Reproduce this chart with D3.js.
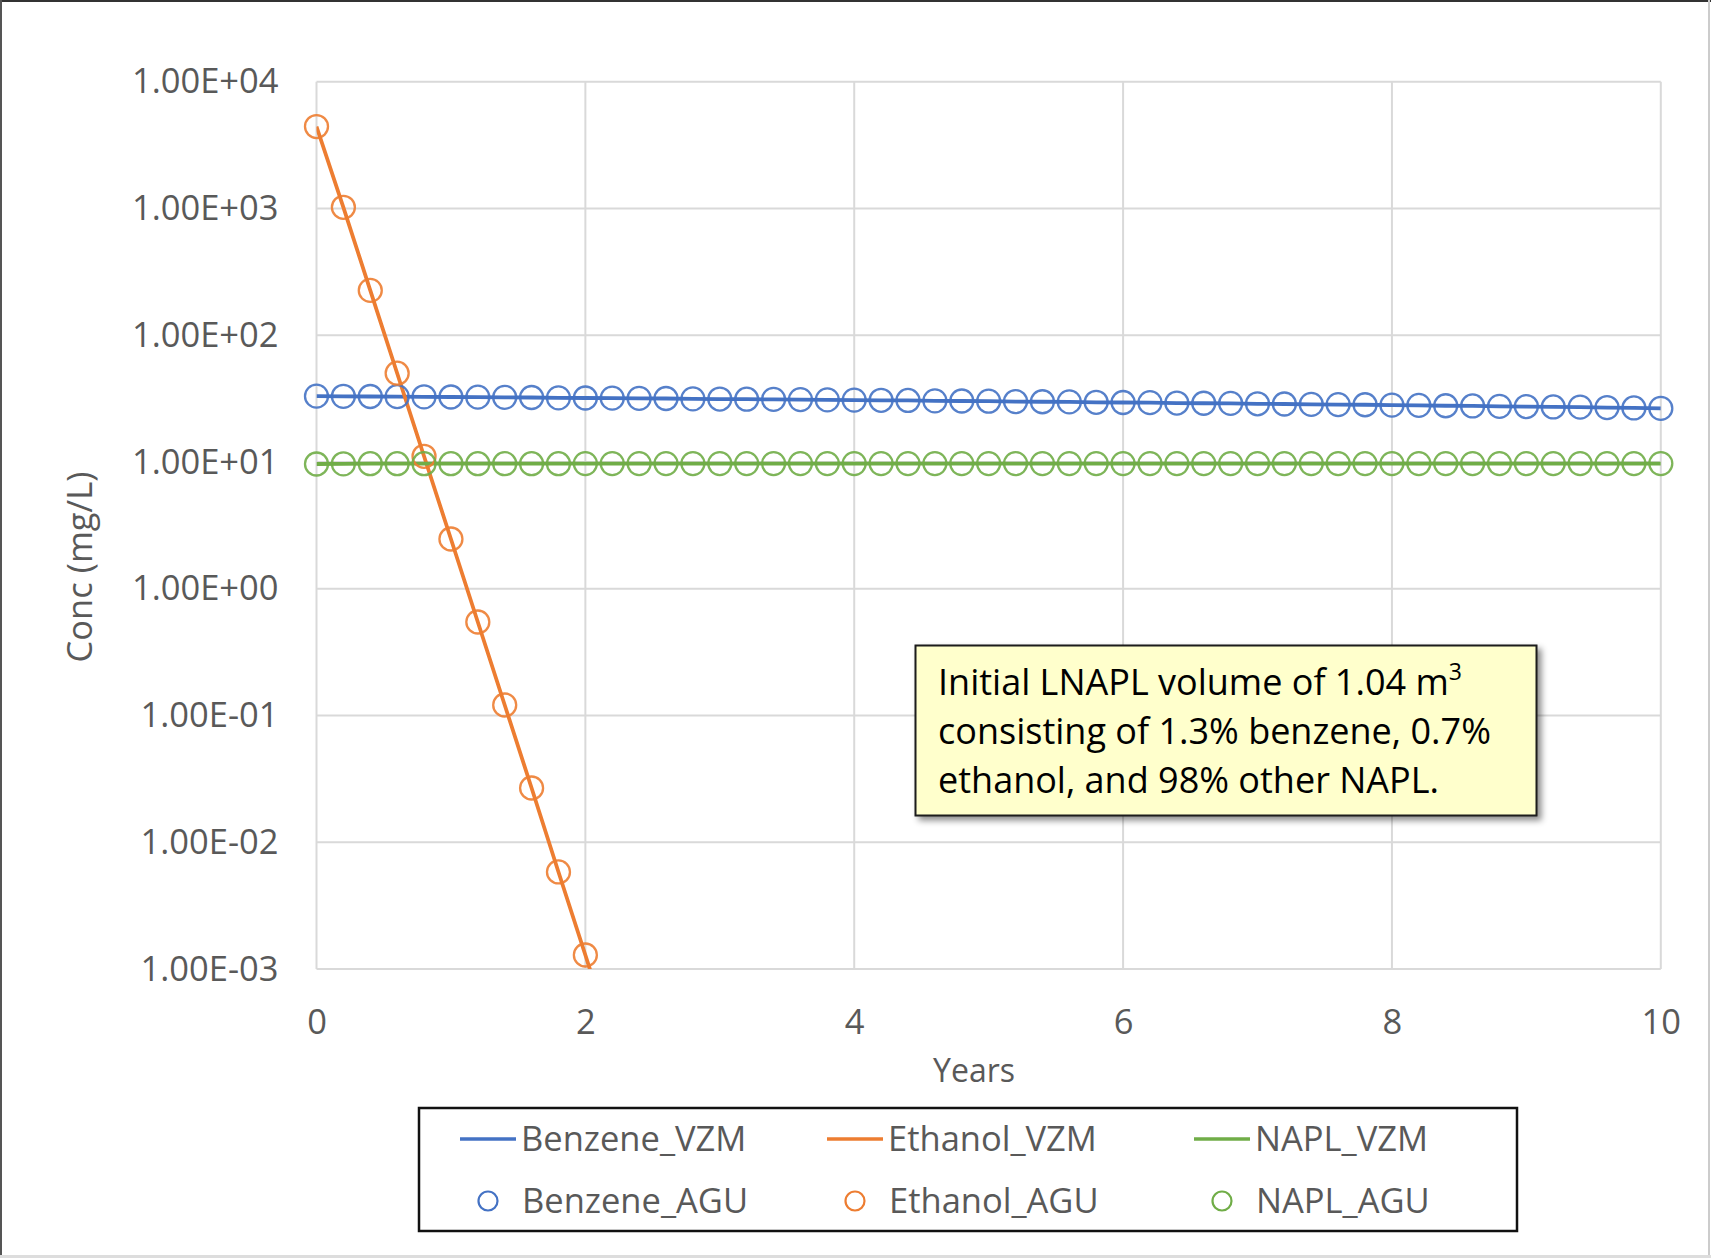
<!DOCTYPE html>
<html><head><meta charset="utf-8">
<script src="https://cdn.jsdelivr.net/npm/d3@7"></script>
<style>
body{margin:0;background:#fff}
svg{display:block}
text{font-family:"Open Sans","Noto Sans",sans-serif}
</style>
</head><body>
<svg id="c" width="1711" height="1258"></svg>
<script>
// ---------- DATA ----------
const years = [0,0.2,0.4,0.6,0.8,1.0,1.2,1.4,1.6,1.8,2.0,2.2,2.4,2.6,2.8,3.0,3.2,3.4,3.6,3.8,4.0,
  4.2,4.4,4.6,4.8,5.0,5.2,5.4,5.6,5.8,6.0,6.2,6.4,6.6,6.8,7.0,7.2,7.4,7.6,7.8,8.0,
  8.2,8.4,8.6,8.8,9.0,9.2,9.4,9.6,9.8,10.0];
const benzene = [33.1,33.0,32.9,32.8,32.7,32.6,32.5,32.4,32.3,32.1,32.0,31.9,31.8,31.7,31.5,31.4,31.3,31.2,31.1,30.9,30.8,
  30.7,30.6,30.4,30.3,30.2,30.0,29.9,29.8,29.6,29.5,29.4,29.2,29.1,29.0,28.8,28.7,28.5,28.4,28.3,28.1,
  28.0,27.8,27.7,27.5,27.4,27.2,27.1,26.9,26.7,26.5];
const napl = [9.65,9.68,9.7,9.7,9.7,9.7,9.7,9.7,9.7,9.7,9.72,9.72,9.72,9.72,9.72,9.72,9.72,9.72,9.72,9.72,9.72,
  9.72,9.72,9.72,9.72,9.72,9.72,9.72,9.72,9.72,9.72,9.72,9.72,9.72,9.72,9.72,9.72,9.72,9.72,9.72,9.72,
  9.72,9.72,9.72,9.72,9.72,9.72,9.72,9.72,9.72,9.72];
const ethanolYears = [0,0.2,0.4,0.6,0.8,1.0,1.2,1.4,1.6,1.8,2.0];
const ethanolAGU = [4436,1023,226,50.2,11.1,2.47,0.547,0.121,0.0268,0.00583,0.00129];
const ethanolVZMYears = [0,0.2,0.4,0.6,0.8,1.0,1.2,1.4,1.6,1.8,2.0,2.2];
const ethanolVZM = [4436,1023,226,50.2,11.1,2.47,0.547,0.121,0.0268,0.00583,0.00129,0.00028];
const yTicks = [1e-3,1e-2,1e-1,1e0,1e1,1e2,1e3,1e4];
const yTickLabels = ["1.00E-03","1.00E-02","1.00E-01","1.00E+00","1.00E+01","1.00E+02","1.00E+03","1.00E+04"];
const xTicks = [0,2,4,6,8,10];
const legendLines = ["Benzene_VZM","Ethanol_VZM","NAPL_VZM"];
const legendMarkers = ["Benzene_AGU","Ethanol_AGU","NAPL_AGU"];
const noteLines = ["Initial LNAPL volume of 1.04 m","consisting of 1.3% benzene, 0.7%","ethanol, and 98% other NAPL."];

// ---------- STYLE ----------
const C = {blue:"#4472C4", orange:"#ED7D31", green:"#70AD47", grid:"#D9D9D9", text:"#595959"};
const seriesColors = [C.blue, C.orange, C.green];
const L = 316.5, R = 1660.8, T = 81.8, B = 969;
const FS = 34.5;

const svg = d3.select("#c");
svg.append("rect").attr("width",1711).attr("height",1258).attr("fill","#fff");

const defs = svg.append("defs");
defs.append("clipPath").attr("id","plotclip").append("rect")
  .attr("x",L).attr("y",T).attr("width",R-L).attr("height",B-T);
const f = defs.append("filter").attr("id","shadow").attr("x","-10%").attr("y","-10%").attr("width","130%").attr("height","140%");
f.append("feDropShadow").attr("dx",4).attr("dy",4).attr("stdDeviation",3).attr("flood-color","#000").attr("flood-opacity",0.45);

const x = d3.scaleLinear().domain([0,10]).range([L,R]);
const y = d3.scaleLog().domain([1e-3,1e4]).range([B,T]);

// gridlines
svg.append("g").selectAll("line").data(yTicks).join("line")
  .attr("x1",L).attr("x2",R).attr("y1",d=>y(d)).attr("y2",d=>y(d))
  .attr("stroke",C.grid).attr("stroke-width",2);
svg.append("g").selectAll("line").data(xTicks).join("line")
  .attr("x1",d=>x(d)).attr("x2",d=>x(d)).attr("y1",T).attr("y2",B)
  .attr("stroke",C.grid).attr("stroke-width",2);

// axes
const yAxis = svg.append("g").attr("transform",`translate(${L},0)`)
  .call(d3.axisLeft(y).tickValues(yTicks).tickSize(0).tickPadding(38)
    .tickFormat((d,i)=>yTickLabels[i]));
yAxis.select(".domain").remove();
yAxis.selectAll("text").attr("font-size",FS).attr("fill",C.text).attr("font-family","'Open Sans',sans-serif");

const xAxis = svg.append("g").attr("transform",`translate(0,${B})`)
  .call(d3.axisBottom(x).tickValues(xTicks).tickSize(0).tickPadding(65).tickFormat(d3.format("d")));
xAxis.select(".domain").remove();
xAxis.selectAll("text").attr("font-size",FS).attr("fill",C.text).attr("dy",0).attr("font-family","'Open Sans',sans-serif");

// axis titles
svg.append("text").attr("x",974).attr("y",1082).attr("text-anchor","middle")
  .attr("font-size",32).attr("fill",C.text).text("Years");
svg.append("text").attr("transform","translate(92,567) rotate(-90)").attr("text-anchor","middle")
  .attr("font-size",FS).attr("fill",C.text).text("Conc (mg/L)");

// lines
const line = d3.line().x(d=>x(d[0])).y(d=>y(d[1]));
const plot = svg.append("g").attr("clip-path","url(#plotclip)");
const vzm = [
  d3.zip(years, benzene),
  d3.zip(ethanolVZMYears, ethanolVZM),
  d3.zip(years, napl)
];
vzm.forEach((s,i)=>{
  plot.append("path").datum(s).attr("d",line).attr("fill","none")
    .attr("stroke",seriesColors[i]).attr("stroke-width",3.8);
});
// markers
const agu = [
  d3.zip(years, benzene),
  d3.zip(ethanolYears, ethanolAGU),
  d3.zip(years, napl)
];
agu.forEach((s,i)=>{
  svg.append("g").selectAll("circle").data(s).join("circle")
    .attr("cx",d=>x(d[0])).attr("cy",d=>y(d[1])).attr("r",11.5)
    .attr("fill","none").attr("stroke",seriesColors[i]).attr("stroke-width",2.3).attr("stroke-opacity",0.9);
});

// annotation box
const nb = svg.append("g");
nb.append("rect").attr("x",915.5).attr("y",645.5).attr("width",621).attr("height",170)
  .attr("fill","#FFFFCC").attr("stroke","#1a1a1a").attr("stroke-width",2).attr("filter","url(#shadow)");
const nt = nb.append("g");
noteLines.forEach((s,i)=>{
  const t = nt.append("text").attr("x",938).attr("y",695+i*49).attr("font-size",36).attr("fill","#000");
  t.append("tspan").text(s);
  if(i===0) t.append("tspan").attr("font-size",23).attr("dy",-15).text("3");
});

// legend
const lg = svg.append("g");
lg.append("rect").attr("x",419).attr("y",1108).attr("width",1098).attr("height",123)
  .attr("fill","#fff").attr("stroke","#111").attr("stroke-width",2.5);
const colX = [460, 827, 1194];
legendLines.forEach((s,i)=>{
  lg.append("line").attr("x1",colX[i]).attr("x2",colX[i]+56).attr("y1",1139).attr("y2",1139)
    .attr("stroke",seriesColors[i]).attr("stroke-width",3.5);
  lg.append("text").attr("x",colX[i]+61).attr("y",1139).attr("dy","0.35em")
    .attr("font-size",FS).attr("fill",C.text).text(s);
});
legendMarkers.forEach((s,i)=>{
  lg.append("circle").attr("cx",colX[i]+28).attr("cy",1201).attr("r",9.5)
    .attr("fill","none").attr("stroke",seriesColors[i]).attr("stroke-width",2.2);
  lg.append("text").attr("x",colX[i]+62).attr("y",1201).attr("dy","0.35em")
    .attr("font-size",FS).attr("fill",C.text).text(s);
});

// outer frame
svg.append("line").attr("x1",0).attr("x2",1711).attr("y1",1).attr("y2",1).attr("stroke","#333").attr("stroke-width",2);
svg.append("line").attr("x1",1).attr("x2",1).attr("y1",0).attr("y2",1258).attr("stroke","#555").attr("stroke-width",2);
svg.append("line").attr("x1",1709).attr("x2",1709).attr("y1",0).attr("y2",1258).attr("stroke","#ccc").attr("stroke-width",2);
svg.append("rect").attr("x",0).attr("y",1255).attr("width",1711).attr("height",3).attr("fill","#ddd");
</script>
</body></html>
